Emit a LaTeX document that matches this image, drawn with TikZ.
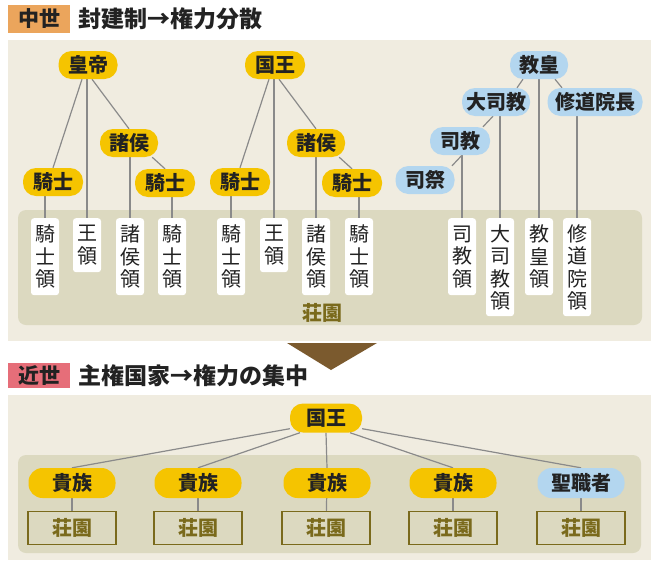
\documentclass[tikz,border=0pt]{standalone}
\usepackage{fontspec}
\newfontfamily\jp{Noto Sans CJK JP}
\usetikzlibrary{calc}
\definecolor{panel}{HTML}{F0ECE0}
\definecolor{band}{HTML}{DCD9C0}
\definecolor{yel}{HTML}{F5C400}
\definecolor{blu}{HTML}{B3D6EF}
\definecolor{orng}{HTML}{EBA55C}
\definecolor{pnk}{HTML}{E66E79}
\definecolor{brn}{HTML}{7B5A2E}
\definecolor{olv}{HTML}{7A6A1C}
\definecolor{lncol}{HTML}{8A8A8A}
\definecolor{ink}{HTML}{222222}
\pgfdeclarelayer{bg}
\pgfdeclarelayer{lines}
\pgfsetlayers{bg,lines,main}
\begin{document}
\begin{tikzpicture}[x=1pt,y=-1pt,
  pill/.style={rounded corners=13pt, minimum height=28pt, inner sep=0pt,
    font=\jp\bfseries\fontsize{20}{24}\selectfont, text=ink},
  ypill/.style={pill, fill=yel},
  bpill/.style={pill, fill=blu},
  noble/.style={minimum width=87pt, minimum height=30pt, rounded corners=14pt},
  vbox/.style={fill=white, rounded corners=3pt, minimum width=28pt, inner sep=0pt,
    anchor=north, align=center, font=\jp\fontsize{20}{22.5}\selectfont, text=ink},
  manor/.style={draw=olv, line width=1.5pt, fill=band, minimum width=88pt,
    minimum height=33pt, inner sep=0pt, text=olv,
    font=\jp\bfseries\fontsize{20}{24}\selectfont},
  conn/.style={draw=lncol, line width=1.2pt},
  hbox/.style={minimum width=62pt, inner sep=0pt, text=ink,
    font=\jp\bfseries\fontsize{21}{24}\selectfont},
  htext/.style={anchor=west, inner sep=0pt, text=ink,
    font=\jp\bfseries\fontsize{23}{27}\selectfont}]
\useasboundingbox (0,0) rectangle (651,560);
% panels
\begin{pgfonlayer}{bg}
\fill[white] (0,0) rectangle (651,560);
\fill[panel] (8,40) rectangle (651,341);
\fill[band, rounded corners=8pt] (18,210) rectangle (642,325);
\fill[panel] (8,395) rectangle (651,560);
\fill[band, rounded corners=8pt] (18,455) rectangle (641,553);
\fill[brn] (287,343) -- (377,343) -- (331,370) -- cycle;
\end{pgfonlayer}
% headers
\node[hbox, fill=orng, minimum height=28pt] (h1) at (39,19) {中世};
\node[htext] (t1) at (78,19) {封建制→権力分散};
\node[hbox, fill=pnk, minimum height=25pt] (h2) at (39,375.5) {近世};
\node[htext] (t2) at (78,376) {主権国家→権力の集中};
% top: emperor tree
\node[ypill, minimum width=59pt] (emp) at (88,65) {皇帝};
\node[ypill, minimum width=58pt] (lordA) at (129,143) {諸侯};
\node[ypill, minimum width=60pt] (kA) at (53,182) {騎士};
\node[ypill, minimum width=60pt] (kB) at (165,183) {騎士};
% top: king tree
\node[ypill, minimum width=60pt] (king) at (275,65) {国王};
\node[ypill, minimum width=58pt] (lordB) at (316,143) {諸侯};
\node[ypill, minimum width=60pt] (kC) at (240,182) {騎士};
\node[ypill, minimum width=60pt] (kD) at (352,183) {騎士};
% top: church
\node[bpill, minimum width=58pt] (pope) at (539,65) {教皇};
\node[bpill, minimum width=68pt] (arch) at (496,102) {大司教};
\node[bpill, minimum width=95pt] (abbot) at (595,102) {修道院長};
\node[bpill, minimum width=60pt] (bish) at (460,141) {司教};
\node[bpill, minimum width=59pt] (priest) at (425,180) {司祭};
% domains
\node[vbox, minimum height=77pt] (fA) at (45,218) {騎\\士\\領};
\node[vbox, minimum height=54pt] (rA) at (87,218) {王\\領};
\node[vbox, minimum height=77pt] (lA) at (130,218) {諸\\侯\\領};
\node[vbox, minimum height=77pt] (fB) at (172,218) {騎\\士\\領};
\node[vbox, minimum height=77pt] (fC) at (231,218) {騎\\士\\領};
\node[vbox, minimum height=54pt] (rC) at (274,218) {王\\領};
\node[vbox, minimum height=77pt] (lC) at (316,218) {諸\\侯\\領};
\node[vbox, minimum height=77pt] (fD) at (359,218) {騎\\士\\領};
\node[vbox, minimum height=77pt] (dB) at (462,218) {司\\教\\領};
\node[vbox, minimum height=98pt] (dA) at (500,218) {大\\司\\教\\領};
\node[vbox, minimum height=77pt] (dP) at (539,218) {教\\皇\\領};
\node[vbox, minimum height=98pt] (dM) at (577,218) {修\\道\\院\\領};
\node[text=olv, inner sep=0pt, font=\jp\bfseries\fontsize{20}{24}\selectfont] (shoen) at (322,313) {荘園};
% bottom
\node[ypill, minimum width=72pt, minimum height=29pt] (K) at (326,418) {国王};
\node[ypill, noble] (nA) at (72,483) {貴族};
\node[ypill, noble] (nB) at (198,483) {貴族};
\node[ypill, noble] (nC) at (327,483) {貴族};
\node[ypill, noble] (nD) at (453,483) {貴族};
\node[bpill, noble] (nE) at (581,483) {聖職者};
\node[manor] (mA) at (72,528) {荘園};
\node[manor] (mB) at (198,528) {荘園};
\node[manor] (mC) at (326,528) {荘園};
\node[manor] (mD) at (453,528) {荘園};
\node[manor] (mE) at (581,528) {荘園};
% connectors
\begin{pgfonlayer}{lines}
\draw[conn] ([xshift=-6pt]emp.south) -- (kA.north);
\draw[conn] ([xshift=4pt]emp.south) -- (lordA.north);
\draw[conn] ([xshift=-6pt]lordA.south east) -- (kB.north);
\draw[conn] (rA.north) -- (rA.north |- emp.center);
\draw[conn] (lA.north) -- (lA.north |- lordA.center);
\draw[conn] (fA.north) -- (fA.north |- kA.center);
\draw[conn] (fB.north) -- (fB.north |- kB.center);
\draw[conn] ([xshift=-6pt]king.south) -- (kC.north);
\draw[conn] ([xshift=4pt]king.south) -- (lordB.north);
\draw[conn] ([xshift=-6pt]lordB.south east) -- (kD.north);
\draw[conn] (rC.north) -- (rC.north |- king.center);
\draw[conn] (lC.north) -- (lC.north |- lordB.center);
\draw[conn] (fC.north) -- (fC.north |- kC.center);
\draw[conn] (fD.north) -- (fD.north |- kD.center);
\draw[conn] ([xshift=-16pt]pope.south) -- ([xshift=21pt]arch.north);
\draw[conn] ([xshift=16pt]pope.south) -- ([xshift=-33pt]abbot.north);
\draw[conn] ([xshift=-3pt]arch.south) -- ([xshift=23pt]bish.north);
\draw[conn] ([xshift=2pt]bish.south) -- ([xshift=27pt]priest.north);
\draw[conn] (dP.north) -- (dP.north |- pope.center);
\draw[conn] (dA.north) -- (dA.north |- arch.center);
\draw[conn] (dM.north) -- (dM.north |- abbot.center);
\draw[conn] (dB.north) -- (dB.north |- bish.center);
\draw[conn] ([yshift=4pt]K.south west) -- (nA.north);
\draw[conn] ([xshift=-26pt]K.south) -- (nB.north);
\draw[conn] (K.south) -- (nC.north);
\draw[conn] ([xshift=24pt]K.south) -- (nD.north);
\draw[conn] ([yshift=4pt]K.south east) -- (nE.north);
\draw[conn] (nA) -- (mA);
\draw[conn] (nB) -- (mB);
\draw[conn] (nC) -- (mC);
\draw[conn] (nD) -- (mD);
\draw[conn] (nE) -- (mE);
\end{pgfonlayer}
\end{tikzpicture}
\end{document}
